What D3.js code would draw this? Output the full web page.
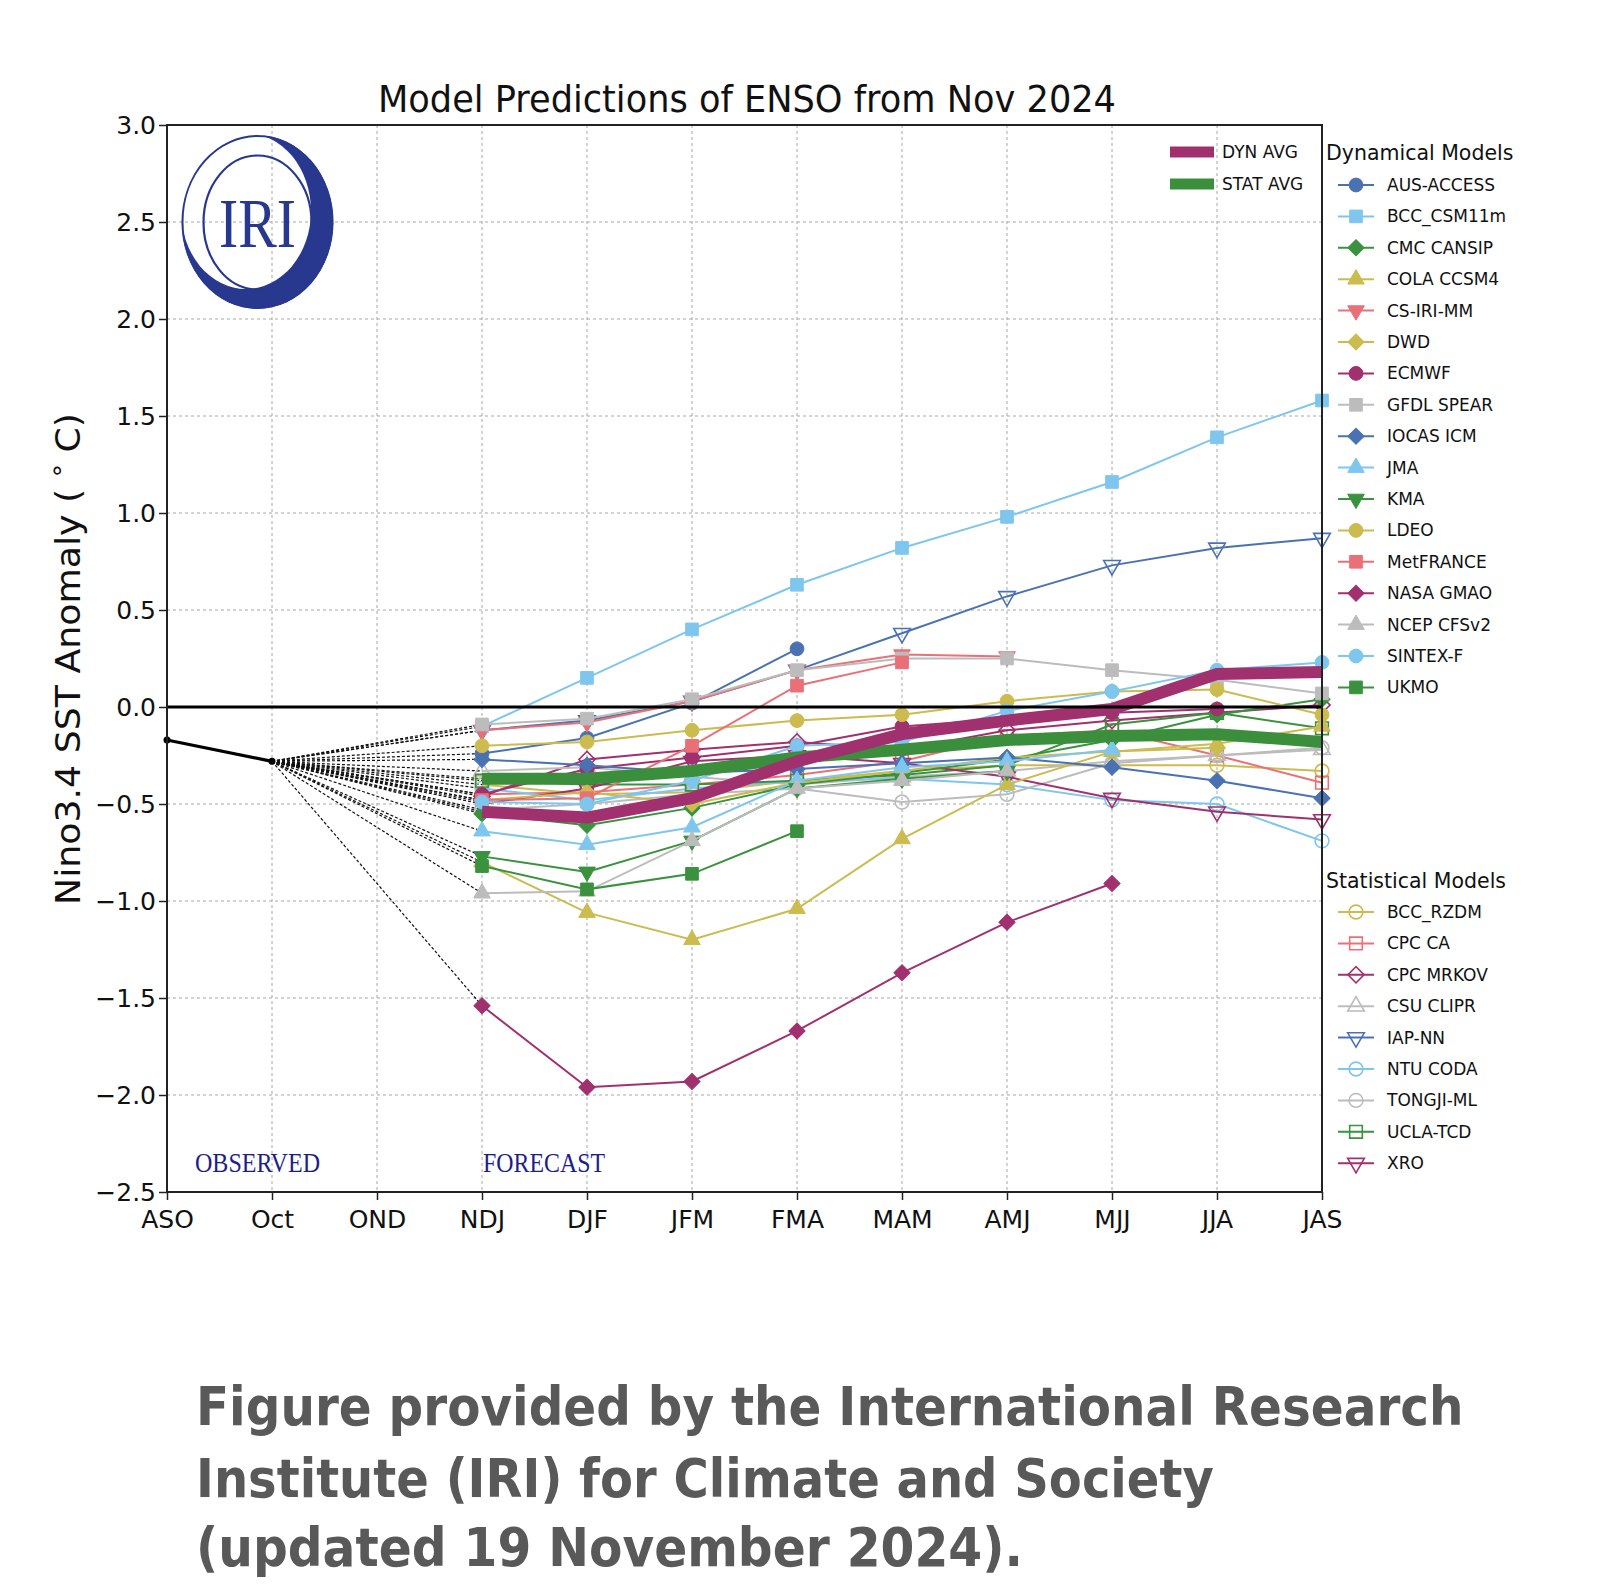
<!DOCTYPE html>
<html>
<head>
<meta charset="utf-8">
<script src="https://cdn.jsdelivr.net/npm/d3@7"></script>
<style>
  body { margin: 0; background: #fff; }
  svg { display: block; }
</style>
</head>
<body>
<script>
// ---------- DATA ----------
const seasons = ["ASO","Oct","OND","NDJ","DJF","JFM","FMA","MAM","AMJ","MJJ","JJA","JAS"];
const forecastSeasons = ["NDJ","DJF","JFM","FMA","MAM","AMJ","MJJ","JJA","JAS"];
const observedSeasons = ["ASO","Oct"];
const observedValues = [-0.17, -0.28];
const yTicks = [-2.5,-2.0,-1.5,-1.0,-0.5,0.0,0.5,1.0,1.5,2.0,2.5,3.0];

// Dynamical models (values from NDJ onward)
const ausAccess  = [-0.24, -0.16, 0.02, 0.30];
const bccCsm11m  = [-0.10, 0.15, 0.40, 0.63, 0.82, 0.98, 1.16, 1.39, 1.58];
const cmcCansip  = [-0.55, -0.61, -0.52, -0.40, -0.34, -0.27, -0.17, -0.04, 0.04];
const colaCcsm4  = [-0.80, -1.06, -1.20, -1.04, -0.68, -0.40, -0.23, -0.19, -0.10];
const csIriMm    = [-0.12, -0.08, 0.03, 0.19, 0.27, 0.26];
const dwd        = [-0.48, -0.44, -0.50, -0.39, -0.33, -0.26, -0.23, -0.21];
const ecmwf      = [-0.45, -0.32, -0.26, -0.20, -0.10, -0.06, -0.03, -0.01];
const gfdlSpear  = [-0.09, -0.06, 0.04, 0.19, 0.25, 0.25, 0.19, 0.14, 0.07];
const iocasIcm   = [-0.27, -0.30, -0.34, -0.32, -0.29, -0.26, -0.31, -0.38, -0.47];
const jma        = [-0.64, -0.71, -0.62, -0.38, -0.31, -0.28, -0.22];
const kma        = [-0.77, -0.85, -0.69, -0.42, -0.37, -0.33];
const ldeo       = [-0.20, -0.18, -0.12, -0.07, -0.04, 0.03, 0.08, 0.09, -0.04];
const metFrance  = [-0.48, -0.47, -0.20, 0.11, 0.23];
const nasaGmao   = [-1.54, -1.96, -1.93, -1.67, -1.37, -1.11, -0.91];
const ncepCfsv2  = [-0.96, -0.95, -0.69, -0.42, -0.38, -0.33];
const sintexF    = [-0.49, -0.50, -0.38, -0.20, -0.18, -0.02, 0.08, 0.19, 0.23];
const ukmo       = [-0.82, -0.94, -0.86, -0.64];

// Statistical models
const bccRzdm    = [-0.40, -0.45, -0.44, -0.38, -0.33, -0.30, -0.30, -0.30, -0.33];
const cpcCa      = [-0.45, -0.44, -0.40, -0.35, -0.28, -0.15, -0.12, -0.25, -0.39];
const cpcMrkov   = [-0.46, -0.27, -0.22, -0.18, -0.22, -0.12, -0.07, -0.03, 0.01];
const csuClipr   = [-0.33, -0.31, -0.36, -0.40, -0.36, -0.33, -0.28, -0.25, -0.22];
const iapNn      = [-0.12, -0.07, 0.03, 0.19, 0.38, 0.57, 0.73, 0.82, 0.87];
const ntuCoda    = [-0.42, -0.48, -0.42, -0.38, -0.37, -0.40, -0.48, -0.50, -0.69];
const tongjiMl   = [-0.53, -0.50, -0.45, -0.42, -0.49, -0.45, -0.29, -0.25, -0.21];
const uclaTcd    = [-0.38, -0.40, -0.40, -0.38, -0.35, -0.30, -0.09, -0.03, -0.11];
const xro        = [-0.50, -0.42, -0.28, -0.25, -0.29, -0.36, -0.47, -0.54, -0.58];

// Averages
const dynAvg  = [-0.54, -0.57, -0.47, -0.28, -0.14, -0.07, -0.01, 0.17, 0.18];
const statAvg = [-0.37, -0.37, -0.33, -0.26, -0.22, -0.17, -0.15, -0.14, -0.18];

const dynNames  = ["AUS-ACCESS","BCC_CSM11m","CMC CANSIP","COLA CCSM4","CS-IRI-MM","DWD","ECMWF","GFDL SPEAR","IOCAS ICM","JMA","KMA","LDEO","MetFRANCE","NASA GMAO","NCEP CFSv2","SINTEX-F","UKMO"];
const dynValues = [ausAccess,bccCsm11m,cmcCansip,colaCcsm4,csIriMm,dwd,ecmwf,gfdlSpear,iocasIcm,jma,kma,ldeo,metFrance,nasaGmao,ncepCfsv2,sintexF,ukmo];
const statNames = ["BCC_RZDM","CPC CA","CPC MRKOV","CSU CLIPR","IAP-NN","NTU CODA","TONGJI-ML","UCLA-TCD","XRO"];
const statValues = [bccRzdm,cpcCa,cpcMrkov,csuClipr,iapNn,ntuCoda,tongjiMl,uclaTcd,xro];

const captionLines = ["Figure provided by the International Research", "Institute (IRI) for Climate and Society", "(updated 19 November 2024)."];

// ---------- STYLES ----------
const C = {
  blue: "#4a72b2", sky: "#7ec6ee", green: "#3a923e", yellow: "#ccbb4e",
  salmon: "#ea7078", magenta: "#a1306f", gray: "#bcbcbc"
};
const dynStyle = [
  [C.blue,"o"],[C.sky,"s"],[C.green,"D"],[C.yellow,"^"],[C.salmon,"v"],[C.yellow,"D"],
  [C.magenta,"o"],[C.gray,"s"],[C.blue,"D"],[C.sky,"^"],[C.green,"v"],[C.yellow,"o"],
  [C.salmon,"s"],[C.magenta,"D"],[C.gray,"^"],[C.sky,"o"],[C.green,"s"]
];
const statStyle = [
  [C.yellow,"o"],[C.salmon,"s"],[C.magenta,"D"],[C.gray,"^"],[C.blue,"v"],
  [C.sky,"o"],[C.gray,"o"],[C.green,"s"],[C.magenta,"v"]
];

// ---------- SETUP ----------
const W = 1600, H = 1594;
const svg = d3.select("body").append("svg").attr("width", W).attr("height", H)
  .style("font-family", "'DejaVu Sans', sans-serif");
svg.append("rect").attr("width", W).attr("height", H).attr("fill", "#fff");

const x = d3.scalePoint().domain(seasons).range([167, 1322]);
const y = d3.scaleLinear().domain([-2.5, 3.0]).range([1192, 125]);
const [x0, x1] = x.range();
const [yb, yt] = y.range();

function fit(sel, w) { sel.attr("textLength", w).attr("lengthAdjust", "spacingAndGlyphs"); }

// grid
const grid = svg.append("g");
grid.selectAll("line.gx").data(seasons).join("line")
  .attr("x1", d => x(d)).attr("x2", d => x(d)).attr("y1", yt).attr("y2", yb)
  .attr("stroke", "#a8a8a8").attr("stroke-width", 1).attr("stroke-dasharray", "3,3");
grid.selectAll("line.gy").data(yTicks).join("line")
  .attr("x1", x0).attr("x2", x1).attr("y1", d => y(d)).attr("y2", d => y(d))
  .attr("stroke", "#a8a8a8").attr("stroke-width", 1).attr("stroke-dasharray", "3,3");

// logo (transparent, drawn under data)
const logoColor = "#28388f";
const defs = svg.append("defs");
const mask = defs.append("mask").attr("id", "cres");
mask.append("rect").attr("width", W).attr("height", H).attr("fill", "black");
mask.append("ellipse").attr("cx", 257.5).attr("cy", 222).attr("rx", 76).attr("ry", 87).attr("fill", "white");
mask.append("ellipse").attr("cx", 246).attr("cy", 211).attr("rx", 65).attr("ry", 78).attr("fill", "black");
const logo = svg.append("g");
logo.append("ellipse").attr("cx", 257.5).attr("cy", 222).attr("rx", 76).attr("ry", 87)
  .attr("fill", logoColor).attr("mask", "url(#cres)");
logo.append("ellipse").attr("cx", 257.5).attr("cy", 222).attr("rx", 75).attr("ry", 86)
  .attr("fill", "none").attr("stroke", logoColor).attr("stroke-width", 2);
logo.append("ellipse").attr("cx", 257.5).attr("cy", 222.5).attr("rx", 54).attr("ry", 67)
  .attr("fill", "none").attr("stroke", logoColor).attr("stroke-width", 2.2);
logo.append("text").attr("x", 219).attr("y", 247).text("IRI")
  .style("font-family", "'Liberation Serif', serif").style("font-size", "70px")
  .attr("fill", logoColor).call(fit, 77);

// dashed connectors from Oct to first forecast point
const allSeries = [];
dynValues.forEach((v, i) => allSeries.push({name: dynNames[i], values: v, color: dynStyle[i][0], marker: dynStyle[i][1], open: false}));
statValues.forEach((v, i) => allSeries.push({name: statNames[i], values: v, color: statStyle[i][0], marker: statStyle[i][1], open: true}));

const conn = svg.append("g");
[...allSeries.map(s => s.values[0]), dynAvg[0], statAvg[0]].forEach(v0 => {
  conn.append("line")
    .attr("x1", x("Oct")).attr("y1", y(observedValues[1]))
    .attr("x2", x("NDJ")).attr("y2", y(v0))
    .attr("stroke", "#111").attr("stroke-width", 1.2).attr("stroke-dasharray", "3,2");
});

// marker path generator
function markerPath(m) {
  switch (m) {
    case "o": return {d: d3.symbol(d3.symbolCircle, 150)(), rot: 0};
    case "s": return {d: d3.symbol(d3.symbolSquare, 160)(), rot: 0};
    case "D": return {d: d3.symbol(d3.symbolSquare, 130)(), rot: 45};
    case "^": return {d: d3.symbol(d3.symbolTriangle, 120)(), rot: 0};
    case "v": return {d: d3.symbol(d3.symbolTriangle, 120)(), rot: 180};
  }
}
function drawMarker(g, px, py, s) {
  const mp = markerPath(s.marker);
  g.append("path").attr("d", mp.d)
    .attr("transform", `translate(${px},${py}) rotate(${mp.rot})`)
    .attr("fill", s.open ? "none" : s.color)
    .attr("stroke", s.color).attr("stroke-width", s.open ? 1.6 : 1);
}

const line = d3.line().x((d, i) => x(forecastSeasons[i])).y(d => y(d));

// series: statistical first, dynamical over
const seriesG = svg.append("g");
const order = [...allSeries.filter(s => s.open), ...allSeries.filter(s => !s.open)];
order.forEach(s => {
  const g = seriesG.append("g");
  g.append("path").datum(s.values).attr("d", line)
    .attr("fill", "none").attr("stroke", s.color).attr("stroke-width", 2);
  s.values.forEach((v, i) => drawMarker(g, x(forecastSeasons[i]), y(v), s));
});

// averages
svg.append("path").datum(statAvg).attr("d", line).attr("fill", "none")
  .attr("stroke", "#3b8e3b").attr("stroke-width", 12).attr("stroke-linejoin", "round");
svg.append("path").datum(dynAvg).attr("d", line).attr("fill", "none")
  .attr("stroke", "#a1306f").attr("stroke-width", 12).attr("stroke-linejoin", "round");

// zero line
svg.append("line").attr("x1", x0).attr("x2", x1).attr("y1", y(0)).attr("y2", y(0))
  .attr("stroke", "#000").attr("stroke-width", 3);

// observed
svg.append("path").datum(observedValues)
  .attr("d", d3.line().x((d, i) => x(observedSeasons[i])).y(d => y(d)))
  .attr("fill", "none").attr("stroke", "#000").attr("stroke-width", 3.2);
observedValues.forEach((v, i) => svg.append("circle").attr("cx", x(observedSeasons[i])).attr("cy", y(v)).attr("r", 3.5).attr("fill", "#000"));

// frame
svg.append("rect").attr("x", x0).attr("y", yt).attr("width", x1 - x0).attr("height", yb - yt)
  .attr("fill", "none").attr("stroke", "#222").attr("stroke-width", 2);

// axes
const yAxis = svg.append("g").attr("transform", `translate(${x0},0)`)
  .call(d3.axisLeft(y).tickValues(yTicks).tickSize(8).tickPadding(3).tickFormat(d3.format(".1f")));
yAxis.select(".domain").remove();
yAxis.selectAll("line").attr("stroke", "#222").attr("stroke-width", 1.5);
yAxis.selectAll("text").style("font-size", "25px").style("font-family", "'DejaVu Sans', sans-serif").attr("fill", "#111");

const xAxis = svg.append("g").attr("transform", `translate(0,${yb})`)
  .call(d3.axisBottom(x).tickSize(8).tickPadding(10));
xAxis.select(".domain").remove();
xAxis.selectAll("line").attr("stroke", "#222").attr("stroke-width", 1.5);
xAxis.selectAll("text").style("font-size", "25px").style("font-family", "'DejaVu Sans', sans-serif").attr("fill", "#111");

// title
svg.append("text").attr("x", 747).attr("y", 112).attr("text-anchor", "middle")
  .style("font-size", "38px").attr("fill", "#111")
  .text("Model Predictions of ENSO from Nov 2024").call(fit, 738);

// y label
const yl = svg.append("text").attr("transform", "translate(80,659) rotate(-90)")
  .attr("text-anchor", "middle").style("font-size", "33px").attr("fill", "#111");
yl.append("tspan").text("Nino3.4 SST Anomaly ( ");
yl.append("tspan").text("°").style("font-size", "24px").attr("dy", -8);
yl.append("tspan").text(" C)").attr("dy", 8);
yl.call(fit, 492);

// observed / forecast labels
svg.append("text").attr("x", 195).attr("y", 1172).text("OBSERVED")
  .style("font-family", "'Liberation Serif', serif").style("font-size", "27px").attr("fill", "#1e1e88").call(fit, 125);
svg.append("text").attr("x", 483).attr("y", 1172).text("FORECAST")
  .style("font-family", "'Liberation Serif', serif").style("font-size", "27px").attr("fill", "#1e1e88").call(fit, 122);

// averages legend
[["DYN AVG", "#a1306f", 152], ["STAT AVG", "#3b8e3b", 184]].forEach(([t, c, yy]) => {
  svg.append("line").attr("x1", 1170).attr("x2", 1214).attr("y1", yy).attr("y2", yy)
    .attr("stroke", c).attr("stroke-width", 11);
  svg.append("text").attr("x", 1222).attr("y", yy + 6).text(t).style("font-size", "17px").attr("fill", "#111");
});

// model legends
function legend(title, names, styles, open, ty, y0) {
  svg.append("text").attr("x", 1326).attr("y", ty).text(title).style("font-size", "20.5px").attr("fill", "#111");
  names.forEach((n, i) => {
    const yy = y0 + i * 31.4;
    const s = {color: styles[i][0], marker: styles[i][1], open: open};
    svg.append("line").attr("x1", 1338).attr("x2", 1374).attr("y1", yy).attr("y2", yy)
      .attr("stroke", s.color).attr("stroke-width", 2);
    drawMarker(svg, 1356, yy, s);
    svg.append("text").attr("x", 1387).attr("y", yy + 6).text(n).style("font-size", "17px").attr("fill", "#111");
  });
}
legend("Dynamical Models", dynNames, dynStyle, false, 160, 185);
legend("Statistical Models", statNames, statStyle, true, 888, 912);

// caption: horizontally condensed with a transform so its real box matches the target width
const capY = [1425, 1497, 1566];
const capW = [1268, 1018, 827];
captionLines.forEach((t, i) => {
  const g = svg.append("g");
  const tx = g.append("text").attr("x", 0).attr("y", 0).text(t)
    .style("font-size", "54px").style("font-weight", "bold").attr("fill", "#595959");
  const nat = tx.node().getComputedTextLength();
  const sx = capW[i] / nat;
  g.attr("transform", `translate(196,${capY[i]}) scale(${sx},1)`);
});
</script>
</body>
</html>
